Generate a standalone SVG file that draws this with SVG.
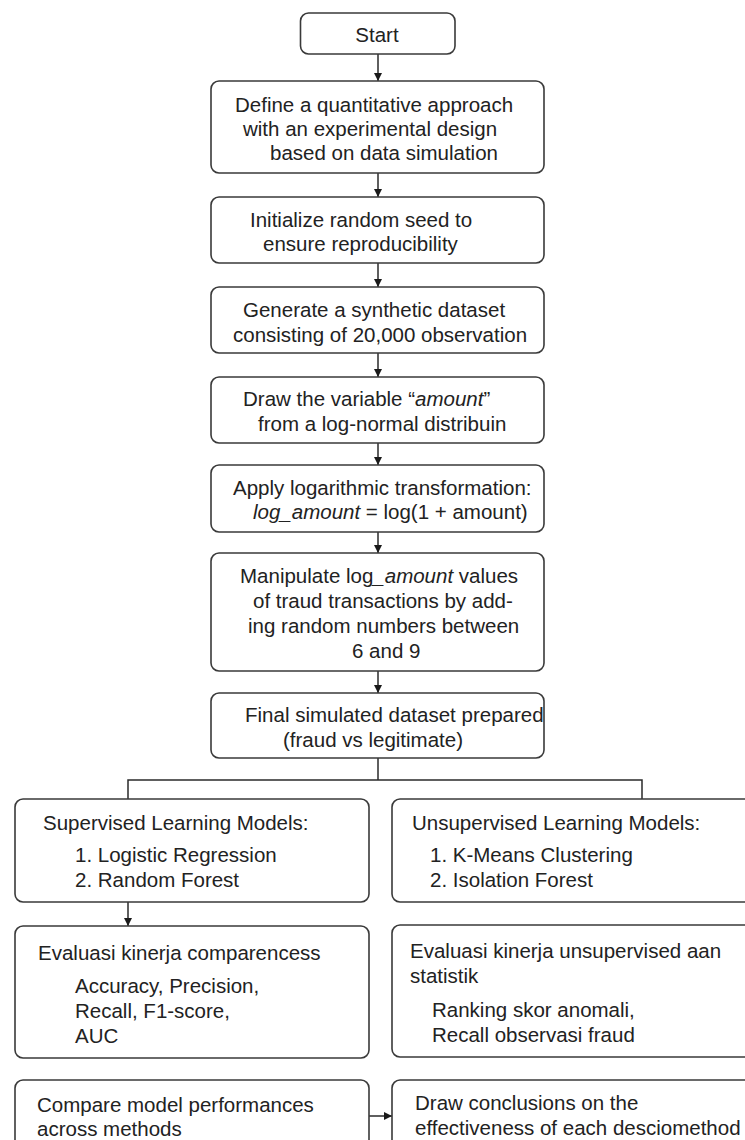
<svg xmlns="http://www.w3.org/2000/svg" width="745" height="1140" viewBox="0 0 745 1140">
<style>
.box{fill:#fff;stroke:#3a3a3a;stroke-width:1.6}
.t{font-family:"Liberation Sans",Arial,Helvetica,sans-serif;font-size:20.5px;fill:#222}
.i{font-style:italic}
.c{fill:none;stroke:#2a2a2a;stroke-width:1.5}
</style>
<defs>
<marker id="ah" viewBox="0 0 10 10" refX="10" refY="5" markerWidth="8" markerHeight="8" markerUnits="userSpaceOnUse" orient="auto">
<path d="M0,0 L10,5 L0,10 z" fill="#1a1a1a"/>
</marker>
</defs>
<rect width="745" height="1140" fill="#fff"/>
<g id="connectors">
<line class="c" x1="378" y1="54" x2="378" y2="81" marker-end="url(#ah)"/>
<line class="c" x1="378" y1="173" x2="378" y2="197" marker-end="url(#ah)"/>
<line class="c" x1="378" y1="263" x2="378" y2="287" marker-end="url(#ah)"/>
<line class="c" x1="378" y1="353" x2="378" y2="377" marker-end="url(#ah)"/>
<line class="c" x1="378" y1="443" x2="378" y2="465" marker-end="url(#ah)"/>
<line class="c" x1="378" y1="532" x2="378" y2="553" marker-end="url(#ah)"/>
<line class="c" x1="378" y1="671" x2="378" y2="693" marker-end="url(#ah)"/>
<polyline class="c" points="378,758 378,780"/>
<polyline class="c" points="128,799 128,780 642,780 642,799"/>
<line class="c" x1="128" y1="902" x2="128" y2="926" marker-end="url(#ah)"/>
<line class="c" x1="369" y1="1116" x2="392" y2="1116" marker-end="url(#ah)"/>
</g>
<g id="start">
<rect class="box" x="300.5" y="13" width="154.5" height="41" rx="8"/>
<text class="t" x="377" y="42" text-anchor="middle">Start</text>
</g>
<g id="define">
<rect class="box" x="211" y="81" width="333" height="92" rx="8"/>
<text class="t" x="235" y="112">Define a quantitative approach</text>
<text class="t" x="243" y="136">with an experimental design</text>
<text class="t" x="270" y="160">based on data simulation</text>
</g>
<g id="initialize">
<rect class="box" x="211" y="197" width="333" height="66" rx="8"/>
<text class="t" x="250" y="227">Initialize random seed to</text>
<text class="t" x="263" y="251">ensure reproducibility</text>
</g>
<g id="generate">
<rect class="box" x="211" y="287" width="333" height="66" rx="8"/>
<text class="t" x="243" y="317">Generate a synthetic dataset</text>
<text class="t" x="233" y="342">consisting of 20,000 observation</text>
</g>
<g id="draw-amount">
<rect class="box" x="211" y="377" width="333" height="66" rx="8"/>
<text class="t" x="243" y="406">Draw the variable “<tspan class="i">amount</tspan>”</text>
<text class="t" x="258" y="431">from a log-normal distribuin</text>
</g>
<g id="apply">
<rect class="box" x="211" y="465" width="333" height="67" rx="8"/>
<text class="t" x="233" y="495">Apply logarithmic transformation:</text>
<text class="t" x="253" y="519"><tspan class="i">log_amount</tspan> = log(1 + amount)</text>
</g>
<g id="manipulate">
<rect class="box" x="211" y="553" width="333" height="118" rx="8"/>
<text class="t" x="240" y="583">Manipulate log<tspan class="i">_amount</tspan> values</text>
<text class="t" x="253" y="608">of traud transactions by add-</text>
<text class="t" x="248" y="633">ing random numbers between</text>
<text class="t" x="352" y="658">6 and 9</text>
</g>
<g id="final">
<rect class="box" x="211" y="693" width="333" height="65" rx="8"/>
<text class="t" x="245" y="722">Final simulated dataset prepared</text>
<text class="t" x="283" y="747">(fraud vs legitimate)</text>
</g>
<g id="supervised">
<rect class="box" x="15" y="799" width="354" height="103" rx="8"/>
<text class="t" x="43" y="830">Supervised Learning Models:</text>
<text class="t" x="75" y="862">1. Logistic Regression</text>
<text class="t" x="75" y="887">2. Random Forest</text>
</g>
<g id="unsupervised">
<rect class="box" x="392" y="799" width="370" height="103" rx="8"/>
<text class="t" x="412" y="830">Unsupervised Learning Models:</text>
<text class="t" x="430" y="862">1. K-Means Clustering</text>
<text class="t" x="430" y="887">2. Isolation Forest</text>
</g>
<g id="eval-supervised">
<rect class="box" x="15" y="926" width="354" height="132" rx="8"/>
<text class="t" x="38" y="960">Evaluasi kinerja comparencess</text>
<text class="t" x="75" y="993">Accuracy, Precision,</text>
<text class="t" x="75" y="1018">Recall, F1-score,</text>
<text class="t" x="75" y="1043">AUC</text>
</g>
<g id="eval-unsupervised">
<rect class="box" x="392" y="925" width="370" height="132" rx="8"/>
<text class="t" x="410" y="958">Evaluasi kinerja unsupervised aan</text>
<text class="t" x="410" y="983">statistik</text>
<text class="t" x="432" y="1017">Ranking skor anomali,</text>
<text class="t" x="432" y="1042">Recall observasi fraud</text>
</g>
<g id="compare">
<rect class="box" x="15" y="1080" width="354" height="80" rx="8"/>
<text class="t" x="37" y="1112">Compare model performances</text>
<text class="t" x="37" y="1136">across methods</text>
</g>
<g id="conclusions">
<rect class="box" x="392" y="1080" width="370" height="80" rx="8"/>
<text class="t" x="415" y="1110">Draw conclusions on the</text>
<text class="t" x="415" y="1135">effectiveness of each desciomethod</text>
</g>
</svg>
